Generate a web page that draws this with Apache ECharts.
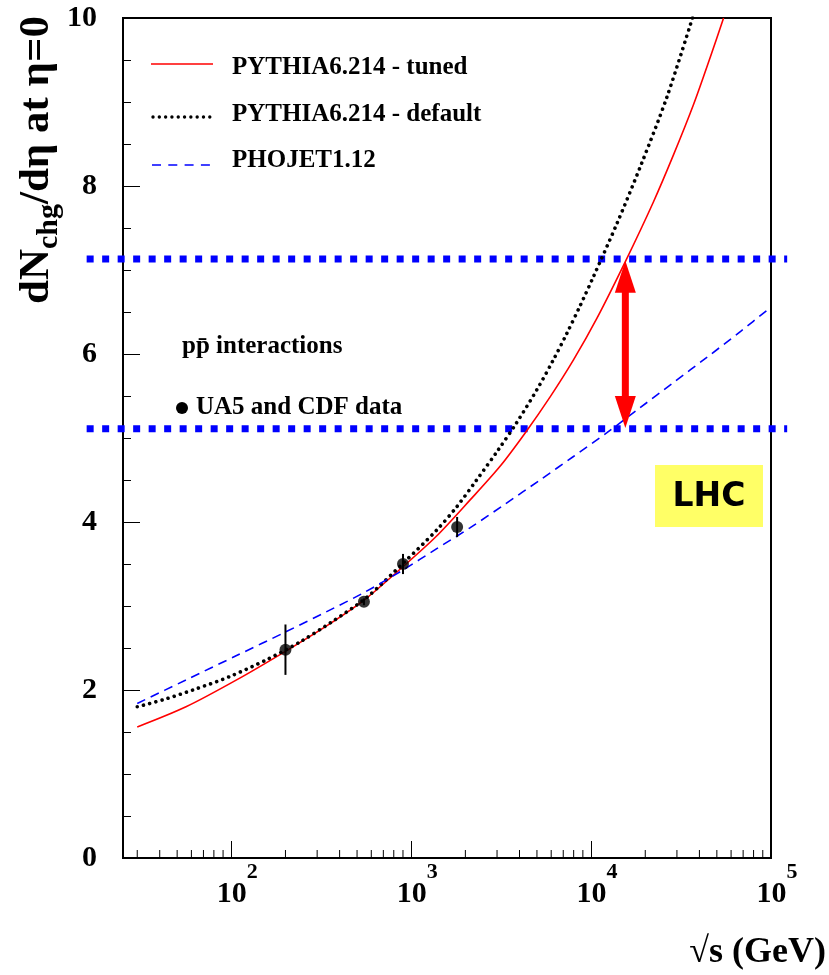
<!DOCTYPE html>
<html>
<head>
<meta charset="utf-8">
<script src="https://cdn.jsdelivr.net/npm/echarts@6/dist/echarts.min.js"></script>
<style>
  html, body { margin: 0; padding: 0; background: #ffffff; }
  #chart { width: 829px; height: 975px; }
</style>
</head>
<body>
<div id="chart"></div>
<script>
// Charged-particle density dN/dη at η=0 versus centre-of-mass energy √s (GeV)

// PYTHIA6.214 - tuned
const tunedEnergy = [30, 56, 107, 200, 337, 547, 902, 1380, 2120, 3110, 4300, 5920, 7980, 10800, 15500, 22200, 28700, 37100, 45900, 54500];
const tunedValue  = [1.56, 1.80, 2.12, 2.46, 2.76, 3.07, 3.47, 3.83, 4.26, 4.66, 5.06, 5.49, 5.93, 6.43, 7.10, 7.81, 8.37, 8.97, 9.53, 10.0];

// PYTHIA6.214 - default
const defaultEnergy = [30, 42, 63, 98, 157, 240, 367, 564, 902, 1380, 1790, 2310, 3050, 3850, 4980, 6170, 7310, 8670, 10300, 13900, 19100, 26400, 36600];
const defaultValue  = [1.80, 1.885, 2.01, 2.16, 2.36, 2.57, 2.82, 3.10, 3.51, 3.90, 4.18, 4.50, 4.86, 5.18, 5.57, 5.93, 6.24, 6.57, 6.92, 7.55, 8.27, 9.06, 10.0];

// PHOJET1.12
const phojetEnergy = [30, 56, 107, 200, 337, 547, 902, 1380, 2120, 3310, 5200, 7980, 12200, 18700, 28700, 44000, 67800, 97500];
const phojetValue  = [1.84, 2.12, 2.41, 2.69, 2.93, 3.16, 3.43, 3.68, 3.93, 4.21, 4.50, 4.78, 5.06, 5.36, 5.66, 5.96, 6.27, 6.54];

// UA5 and CDF measurements (p p̄)
const dataEnergy = [200, 546, 900, 1800];
const dataValue  = [2.48, 3.05, 3.50, 3.94];
const dataError  = [0.30, 0.04, 0.12, 0.12];

// LHC prediction band: upper / lower level, horizontal extent and arrow
const lhcLevels = [7.13, 5.11];
const lhcSpan = [15.7, 123000];
const arrowEnergy = 15500;
const arrowRange = [5.12, 7.11];

// axis ticks
const minorTickValues = [30, 40, 50, 60, 70, 80, 90, 200, 300, 400, 500, 600, 700, 800, 900,
  2000, 3000, 4000, 5000, 6000, 7000, 8000, 9000, 20000, 30000, 40000, 50000, 60000, 70000, 80000, 90000];
const yTickValues = [0, 2, 4, 6, 8, 10];

const SERIF = '"Liberation Serif", "Times New Roman", serif';
const pairs = (xs, ys) => xs.map((x, i) => [x, ys[i]]);

// pixel x of an energy on the log axis, extrapolated from two decades so
// that values beyond the axis range are placed past the frame
function energyToX(api, energy, level) {
  const a = api.coord([100, level]);
  const b = api.coord([1000, level]);
  return a[0] + (Math.log10(energy) - 2) * (b[0] - a[0]);
}

const chart = echarts.init(document.getElementById('chart'), null, { renderer: 'canvas' });

const option = {
  animation: false,
  backgroundColor: '#ffffff',
  grid: {
    left: 123, right: 58, top: 18, bottom: 117,
    show: true, borderColor: '#000', borderWidth: 2, backgroundColor: 'transparent'
  },
  xAxis: {
    type: 'log', logBase: 10, min: 25, max: 100000,
    axisLine: { lineStyle: { color: '#000', width: 2 } },
    axisTick: { inside: true, length: 17, lineStyle: { color: '#000', width: 1 } },
    minorTick: { show: false },
    splitLine: { show: false },
    axisLabel: {
      margin: 3,
      showMinLabel: false,
      color: '#000',
      formatter: function (v) {
        const l = Math.log10(v);
        const e = Math.round(l);
        if (Math.abs(l - e) > 1e-6) return '';
        return '{b|10}{s|' + e + '}';
      },
      rich: {
        b: { fontFamily: SERIF, fontWeight: 'bold', fontSize: 30, lineHeight: 30, padding: [18, 0, 0, 12], verticalAlign: 'top', color: '#000' },
        s: { fontFamily: SERIF, fontWeight: 'bold', fontSize: 22, lineHeight: 22, verticalAlign: 'top', color: '#000' }
      }
    }
  },
  yAxis: {
    type: 'value', min: 0, max: 10, interval: 2,
    axisLine: { show: true, lineStyle: { color: '#000', width: 2 } },
    axisTick: { inside: true, length: 17, lineStyle: { color: '#000', width: 1 } },
    minorTick: { show: true, splitNumber: 4, length: 8, lineStyle: { color: '#000', width: 1 } },
    splitLine: { show: false },
    axisLabel: {
      margin: 26, color: '#000', fontFamily: SERIF, fontWeight: 'bold', fontSize: 30,
      formatter: v => (yTickValues.indexOf(v) >= 0 ? String(v) : '')
    }
  },
  series: [
    // LHC levels, running past both sides of the frame
    {
      type: 'custom', silent: true, z: 1, clip: false,
      data: lhcLevels.map(level => [lhcSpan[0], level, lhcSpan[1]]),
      encode: { x: [0, 2], y: 1 },
      renderItem: function (params, api) {
        const level = api.value(1);
        const y = api.coord([100, level])[1];
        const x1 = energyToX(api, api.value(0), level);
        const x2 = energyToX(api, api.value(2), level);
        return {
          type: 'line',
          shape: { x1: x1, y1: y, x2: x2, y2: y },
          style: { stroke: '#0000ff', lineWidth: 7, lineDash: [7, 8.5], lineCap: 'butt' }
        };
      }
    },
    {
      name: 'PYTHIA6.214 - tuned', type: 'line', symbol: 'none', smooth: 0.3, z: 3,
      data: pairs(tunedEnergy, tunedValue),
      lineStyle: { color: '#ff0000', width: 1.6 }
    },
    {
      name: 'PYTHIA6.214 - default', type: 'line', symbol: 'none', smooth: 0.3, z: 3,
      data: pairs(defaultEnergy, defaultValue),
      lineStyle: { color: '#000000', width: 3.6, type: [0.01, 6.4], cap: 'round' }
    },
    {
      name: 'PHOJET1.12', type: 'line', symbol: 'none', smooth: 0.3, z: 3,
      data: pairs(phojetEnergy, phojetValue),
      lineStyle: { color: '#0000ff', width: 1.6, type: [9, 6] }
    },
    // error bars
    {
      type: 'custom', silent: true, z: 4,
      encode: { x: 0, y: [1, 2] },
      data: dataEnergy.map((e, i) => [e, dataValue[i] - dataError[i], dataValue[i] + dataError[i]]),
      renderItem: function (params, api) {
        const lo = api.coord([api.value(0), api.value(1)]);
        const hi = api.coord([api.value(0), api.value(2)]);
        return { type: 'line', shape: { x1: lo[0], y1: lo[1], x2: hi[0], y2: hi[1] }, style: { stroke: '#000', lineWidth: 2 } };
      }
    },
    {
      name: 'UA5 and CDF data', type: 'scatter', symbol: 'circle', symbolSize: 12, z: 5,
      data: pairs(dataEnergy, dataValue),
      itemStyle: { color: '#000' }
    },
    // double-headed arrow between the two LHC levels
    {
      type: 'custom', silent: true, z: 6, clip: false,
      encode: { x: 0, y: [1, 2] },
      data: [[arrowEnergy, arrowRange[0], arrowRange[1]]],
      renderItem: function (params, api) {
        const lo = api.coord([api.value(0), api.value(1)]);
        const hi = api.coord([api.value(0), api.value(2)]);
        const x = hi[0], head = 32, hw = 10.5, sw = 3.5;
        const red = { fill: '#ff0000' };
        return {
          type: 'group',
          children: [
            { type: 'rect', shape: { x: x - sw, y: hi[1] + head - 1, width: sw * 2, height: lo[1] - hi[1] - 2 * head + 2 }, style: red },
            { type: 'polygon', shape: { points: [[x, hi[1]], [x - hw, hi[1] + head], [x + hw, hi[1] + head]] }, style: red },
            { type: 'polygon', shape: { points: [[x, lo[1]], [x - hw, lo[1] - head], [x + hw, lo[1] - head]] }, style: red }
          ]
        };
      }
    },
    // minor ticks on the logarithmic axis
    {
      type: 'custom', silent: true, z: 2, clip: false,
      data: minorTickValues.map(v => [v, 0]),
      renderItem: function (params, api) {
        const p = api.coord([api.value(0), 0]);
        return { type: 'line', shape: { x1: p[0], y1: p[1], x2: p[0], y2: p[1] - 8 }, style: { stroke: '#000', lineWidth: 1 } };
      }
    }
  ],
  graphic: [
    // legend
    { type: 'line', shape: { x1: 151, y1: 64, x2: 213, y2: 64 }, style: { stroke: '#ff0000', lineWidth: 1.6 } },
    { type: 'line', shape: { x1: 153, y1: 117, x2: 213, y2: 117 }, style: { stroke: '#000', lineWidth: 3.4, lineDash: [0.01, 6.3], lineCap: 'round' } },
    { type: 'line', shape: { x1: 152, y1: 165, x2: 211, y2: 165 }, style: { stroke: '#0000ff', lineWidth: 1.6, lineDash: [9, 7.3] } },
    { type: 'text', x: 232, y: 68, style: { text: 'PYTHIA6.214 - tuned', font: 'bold 25px ' + SERIF, fill: '#000', align: 'left', verticalAlign: 'middle', textAlign: 'left', textVerticalAlign: 'middle' } },
    { type: 'text', x: 232, y: 115, style: { text: 'PYTHIA6.214 - default', font: 'bold 25px ' + SERIF, fill: '#000', align: 'left', verticalAlign: 'middle', textAlign: 'left', textVerticalAlign: 'middle' } },
    { type: 'text', x: 232, y: 161, style: { text: 'PHOJET1.12', font: 'bold 25px ' + SERIF, fill: '#000', align: 'left', verticalAlign: 'middle', textAlign: 'left', textVerticalAlign: 'middle' } },

    // data annotation
    { type: 'text', x: 182, y: 347, style: { text: 'p\u0070\u0304 interactions', font: 'bold 25px ' + SERIF, fill: '#000', align: 'left', verticalAlign: 'middle', textAlign: 'left', textVerticalAlign: 'middle' } },
    { type: 'circle', shape: { cx: 182, cy: 408, r: 6 }, style: { fill: '#000' } },
    { type: 'text', x: 196, y: 408, style: { text: 'UA5 and CDF data', font: 'bold 25px ' + SERIF, fill: '#000', align: 'left', verticalAlign: 'middle', textAlign: 'left', textVerticalAlign: 'middle' } },

    // LHC tag
    { type: 'rect', shape: { x: 655, y: 465, width: 108, height: 62 }, style: { fill: '#ffff66' }, z: 10 },
    { type: 'text', x: 709, y: 497, z: 11, style: { text: 'LHC', font: 'bold 33px "DejaVu Sans", sans-serif', fill: '#000', align: 'center', verticalAlign: 'middle', textAlign: 'center', textVerticalAlign: 'middle' } },

    // axis titles
    { type: 'text', x: 826, y: 953, style: { text: '\u221As (GeV)', font: 'bold 36px ' + SERIF, fill: '#000', align: 'right', verticalAlign: 'middle', textAlign: 'right', textVerticalAlign: 'middle' } },
    {
      type: 'text', x: 37, y: 160, rotation: Math.PI / 2,
      style: {
        text: '{a|dN}{c|chg}{a|/d\u03B7 at \u03B7=0}',
        align: 'center', verticalAlign: 'middle', textAlign: 'center', textVerticalAlign: 'middle',
        rich: {
          a: { fontFamily: SERIF, fontWeight: 'bold', fontSize: 43, lineHeight: 43, verticalAlign: 'top', fill: '#000', color: '#000' },
          c: { fontFamily: SERIF, fontWeight: 'bold', fontSize: 30, lineHeight: 30, padding: [19, 0, 0, 0], verticalAlign: 'top', fill: '#000', color: '#000' }
        }
      }
    }
  ]
};

chart.setOption(option);
</script>
</body>
</html>
